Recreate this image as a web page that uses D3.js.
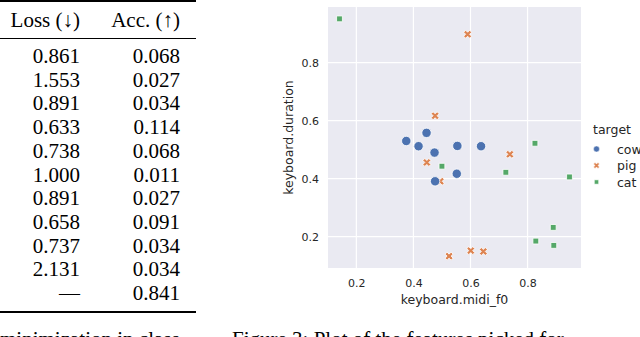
<!DOCTYPE html>
<html><head><meta charset="utf-8">
<script src="https://cdn.jsdelivr.net/npm/d3@7"></script>
<style>html,body{margin:0;padding:0;background:#fff;overflow:hidden}</style>
</head><body>
<svg id="c" width="640" height="337"></svg>
<script>
// ---- table data ----
const tableHeaders = ["Loss (\u2193)", "Acc. (\u2191)"];
const lossValues = ["0.861","1.553","0.891","0.633","0.738","1.000","0.891","0.658","0.737","2.131","\u2014"];
const accValues  = ["0.068","0.027","0.034","0.114","0.068","0.011","0.027","0.091","0.034","0.034","0.841"];

// ---- scatter data ----
const categories = ["cow","pig","cat"];
const cowX = [0.375,0.446,0.418,0.474,0.554,0.637,0.552,0.476];
const cowY = [0.530,0.558,0.512,0.490,0.513,0.512,0.417,0.391];
const pigX = [0.590,0.476,0.447,0.738,0.494,0.525,0.601,0.645];
const pigY = [0.898,0.617,0.456,0.484,0.391,0.133,0.152,0.149];
const catX = [0.141,0.826,0.500,0.724,0.947,0.890,0.829,0.892];
const catY = [0.951,0.522,0.443,0.422,0.406,0.232,0.185,0.170];
const xTicks = [0.2,0.4,0.6,0.8];
const yTicks = [0.2,0.4,0.6,0.8];
const xLabel = "keyboard.midi_f0";
const yLabel = "keyboard.duration";
const legendTitle = "target";

const svg = d3.select("#c");
const serif = "'Liberation Serif','Times New Roman',serif";
const sans = "'DejaVu Sans',sans-serif";

// ---------- Table ----------
const tbl = svg.append("g");
const rowScale = d3.scaleLinear().domain([0, lossValues.length-1]).range([63, 300]);
tbl.append("line").attr("x1",0).attr("x2",196).attr("y1",1).attr("y2",1).attr("stroke","#000").attr("stroke-width",2);
tbl.append("line").attr("x1",0).attr("x2",196).attr("y1",38.5).attr("y2",38.5).attr("stroke","#000").attr("stroke-width",1.2);
tbl.append("line").attr("x1",0).attr("x2",196).attr("y1",312).attr("y2",312).attr("stroke","#000").attr("stroke-width",2);
const colRight = [80, 180];
tableHeaders.forEach((h,i)=>{
  tbl.append("text").attr("x",colRight[i]).attr("y",27).attr("text-anchor","end")
    .attr("font-family",serif).attr("font-size",21).text(h);
});
[lossValues, accValues].forEach((col,ci)=>{
  tbl.selectAll(null).data(col).enter().append("text")
    .attr("x",colRight[ci]).attr("y",(d,i)=>rowScale(i)).attr("text-anchor","end")
    .attr("font-family",serif).attr("font-size",21).text(d=>d);
});

// clipped caption line at the bottom (only the tops show, as in the reference)
svg.append("text").attr("x",0).attr("y",346).attr("font-family",serif).attr("font-size",21)
  .text("minimization in class.");
svg.append("text").attr("x",232).attr("y",346).attr("font-family",serif).attr("font-size",21)
  .text("Figure 3: Plot of the features picked for");

// ---------- Scatter ----------
const L=328, R=581, T=7, B=268;
const allX = cowX.concat(pigX, catX), allY = cowY.concat(pigY, catY);
const pad = (ext)=>{const r=ext[1]-ext[0]; return [ext[0]-0.05*r, ext[1]+0.05*r];};
const x = d3.scaleLinear().domain(pad(d3.extent(allX))).range([L,R]);
const y = d3.scaleLinear().domain(pad(d3.extent(allY))).range([B,T]);

const g = svg.append("g");
g.append("rect").attr("x",L).attr("y",T).attr("width",R-L).attr("height",B-T).attr("fill","#eaeaf2");
g.selectAll(".gx").data(xTicks).enter().append("line")
  .attr("x1",d=>x(d)).attr("x2",d=>x(d)).attr("y1",T).attr("y2",B).attr("stroke","#fff").attr("stroke-width",1.2);
g.selectAll(".gy").data(yTicks).enter().append("line")
  .attr("y1",d=>y(d)).attr("y2",d=>y(d)).attr("x1",L).attr("x2",R).attr("stroke","#fff").attr("stroke-width",1.2);

const xAxis = d3.axisBottom(x).tickValues(xTicks).tickFormat(d3.format(".1f")).tickSize(0).tickPadding(11);
const yAxis = d3.axisLeft(y).tickValues(yTicks).tickFormat(d3.format(".1f")).tickSize(0).tickPadding(9);
const gxA = g.append("g").attr("transform",`translate(0,${B})`).call(xAxis);
const gyA = g.append("g").attr("transform",`translate(${L},0)`).call(yAxis);
[gxA,gyA].forEach(a=>{
  a.select(".domain").remove();
  a.selectAll("text").attr("font-family",sans).attr("font-size",11).attr("fill","#262626");
});

g.append("text").attr("x",(L+R)/2).attr("y",304).attr("text-anchor","middle")
  .attr("font-family",sans).attr("font-size",12.5).attr("fill","#262626").text(xLabel);
g.append("text").attr("transform",`translate(293,${(T+B)/2}) rotate(-90)`).attr("text-anchor","middle")
  .attr("font-family",sans).attr("font-size",12.5).attr("fill","#262626").text(yLabel);

const colors = {cow:"#4c72b0", pig:"#dd8452", cat:"#55a868"};
const xPath = (s)=>d3.symbol().type(d3.symbolCross).size(s)();
function marker(sel, cat, big){
  if(cat==="cow"){
    sel.append("circle").attr("r", big?4.7:3).attr("fill",colors.cow).attr("stroke","#fff").attr("stroke-width",big?0.8:0.5);
  } else if(cat==="pig"){
    sel.append("path").attr("d", xPath(big?40:22)).attr("transform","rotate(45)")
      .attr("fill",colors.pig).attr("stroke","#fff").attr("stroke-width",big?0.8:0.5);
  } else {
    sel.append("path").attr("d", d3.symbol().type(d3.symbolSquare).size(big?34:18)())
      .attr("fill",colors.cat).attr("stroke","#fff").attr("stroke-width",big?0.8:0.5);
  }
}
const series = {cow:[cowX,cowY], pig:[pigX,pigY], cat:[catX,catY]};
["pig","cow","cat"].forEach(cat=>{
  const [xs,ys]=series[cat];
  xs.forEach((xv,i)=>{
    const m = g.append("g").attr("transform",`translate(${x(xv)},${y(ys[i])})`);
    marker(m,cat,true);
  });
});

// legend
const lg = svg.append("g");
lg.append("text").attr("x",593).attr("y",134).attr("font-family",sans).attr("font-size",12.5).attr("fill","#262626").text(legendTitle);
categories.forEach((c,i)=>{
  const yy = 149 + i*16.5;
  const m = lg.append("g").attr("transform",`translate(596.5,${yy})`);
  marker(m,c,false);
  lg.append("text").attr("x",617).attr("y",yy+4.5).attr("font-family",sans).attr("font-size",12.5).attr("fill","#262626").text(c);
});
</script>
</body></html>
